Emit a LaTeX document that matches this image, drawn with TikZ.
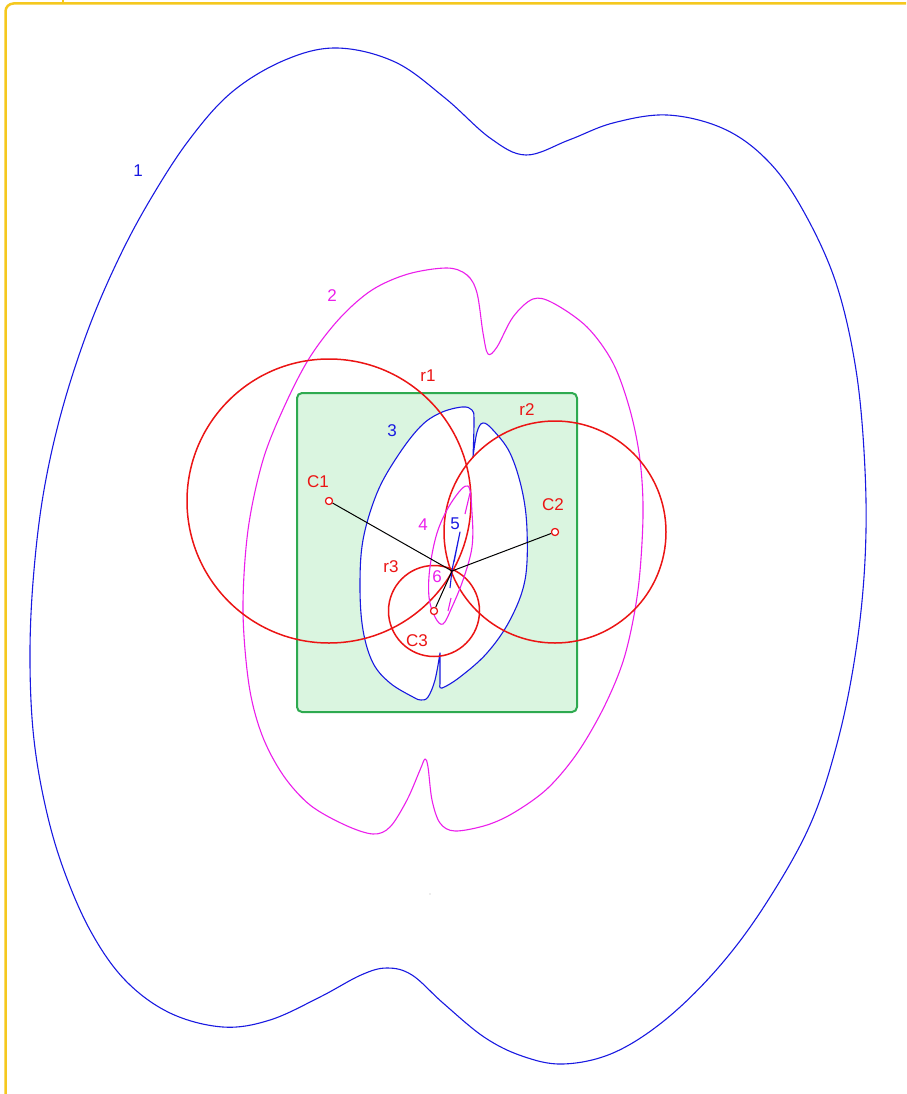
\documentclass[tikz,border=0pt]{standalone}
\usepackage{fontspec}
\setmainfont{Liberation Sans}
\definecolor{cblue}{RGB}{25,25,225}
\definecolor{cmag}{RGB}{235,30,235}
\definecolor{cred}{RGB}{235,20,20}
\definecolor{cgreen}{RGB}{46,170,80}
\definecolor{cgfill}{RGB}{218,245,224}
\definecolor{cyel}{RGB}{245,200,30}
\begin{document}
\begin{tikzpicture}[x=1pt,y=-1pt,
  bluecurve/.style={draw=cblue, line width=1.1pt, line join=round},
  magcurve/.style={draw=cmag, line width=1.1pt, line join=round},
  redcircle/.style={draw=cred, line width=1.5pt},
  radius line/.style={draw=black, line width=1pt},
  centre/.style={circle, draw=cred, line width=1.1pt, minimum size=7pt, inner sep=0pt, fill=white},
  lab/.style={font=\fontsize{17}{17}\selectfont, inner sep=0pt},
  greenbox/.style={draw=cgreen, fill=cgfill, line width=2pt, rounded corners=5pt},
  frame/.style={draw=cyel, line width=2.5pt}]
\useasboundingbox (0,0) rectangle (906,1094);
\clip (0,0) rectangle (906,1094);
% yellow frame
\draw[frame, rounded corners=8pt] (5.5,1110) -- (5.5,3.5) -- (920,3.5);
\draw[frame] (63,0) -- (63,3.5);
% curve 1
\draw[bluecurve] plot[smooth cycle, tension=0.6] coordinates {
 (337,48) (395,62) (445,98) (490,138) (526,155) (569,140) (613,123) (667,115)
 (722,128) (765,158) (800,205) (835,280) (856,370) (865,470) (865,560) (856,650)
 (838,740) (810,825) (765,905) (718,968) (665,1020) (613,1053) (563,1064)
 (522,1056) (484,1037) (443,1003) (412,975) (387,968) (361,975) (320,997) (270,1020)
 (223,1027) (170,1013) (125,980) (90,930) (62,865) (44,800) (33,730) (30,650)
 (34,570) (44,490) (62,410) (88,330) (118,260) (150,200) (189,140) (232,92) (285,60)};
% curve 2
\draw[magcurve] plot[smooth cycle, tension=0.55] coordinates {
 (447,268) (467,275) (477,293) (483,333) (488,354) (497,347) (513,317) (533,299)
 (553,303) (587,327) (613,363) (630,410) (640,460) (643,516) (638,590) (625,655)
 (605,705) (578,752) (548,788) (515,812) (487,825) (455,831) (440,823) (432,800)
 (428,767) (425,759) (420,770) (407,800) (390,827) (373,834) (345,825) (310,805)
 (283,775) (262,735) (249,685) (243,610) (248,530) (263,460) (285,405) (310,357)
 (340,318) (372,290) (408,274)};
% green rectangle
\draw[greenbox] (297,393) rectangle (577,712);
% curve 3
\draw[bluecurve, fill=white] plot[smooth, tension=0.6] coordinates {
 (473,457) (477,432) (483,423) (493,430) (510,453) (522,490) (527,530) (525,580)
 (510,620) (487,653) (460,677) (442,688) (440,684)} -- (440,653)
 -- plot[smooth, tension=0.6] coordinates {
 (440,653) (435,680) (428,697) (421,700) (413,697) (390,683) (373,663) (363,630)
 (360,587) (363,540) (377,493) (397,457) (420,427) (440,413) (462,407) (472,410)
 (474,420) (473,457)} -- cycle;
% centres and meeting point
\coordinate (P) at (452,571);
\node[centre] (c1) at (329,501) {};
\node[centre] (c2) at (555,532) {};
\node[centre] (c3) at (434,611) {};
% red circles
\draw[redcircle] (c1.center) circle[radius=142];
\draw[redcircle] (c2.center) circle[radius=111];
\draw[redcircle] (c3.center) circle[radius=45.5];
% curve 4
\draw[magcurve] plot[smooth cycle, tension=0.6] coordinates {
 (468,486) (472,513) (472,547) (463,580) (452,607) (443,624) (435,617) (429,597)
 (430,567) (438,530) (453,500)};
\draw[magcurve] (470,493) -- (465,514);
\draw[magcurve] (451,598) -- (448,611);
% curve 5
\draw[bluecurve] (450,588) -- (452,570) -- (460,532) -- (454,562);
% radius lines
\draw[radius line] (c1) -- (P);
\draw[radius line] (c2) -- (P);
\draw[radius line] (c3) -- (P);
\node[centre] at (c1.center) {};
\node[centre] at (c2.center) {};
\node[centre] at (c3.center) {};
% speck
\fill[gray!60] (430,894) circle[radius=0.6];
% labels
\node[lab, text=cblue] (l1) at (138,171) {1};
\node[lab, text=cmag] (l2) at (332,296) {2};
\node[lab, text=cblue] (l3) at (392,431) {3};
\node[lab, text=cmag] (l4) at (423,525) {4};
\node[lab, text=cblue] (l5) at (455,524) {5};
\node[lab, text=cmag] (l6) at (437,577) {6};
\node[lab, text=cred] (lr1) at (428,376) {r1};
\node[lab, text=cred] (lr2) at (527,410) {r2};
\node[lab, text=cred] (lr3) at (391,567) {r3};
\node[lab, text=cred] (lc1) at (318,482) {C1};
\node[lab, text=cred] (lc2) at (553,505) {C2};
\node[lab, text=cred] (lc3) at (417,641) {C3};
\end{tikzpicture}
\end{document}
